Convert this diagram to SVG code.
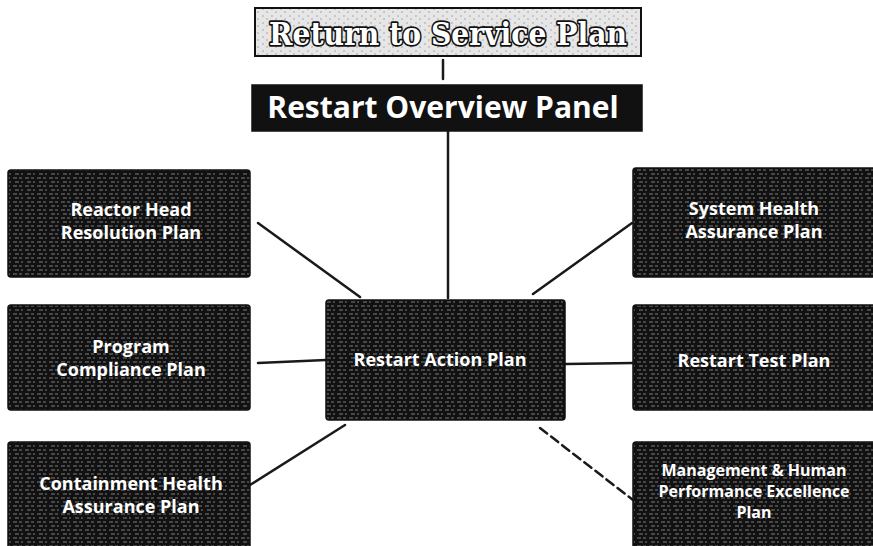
<svg xmlns="http://www.w3.org/2000/svg" width="873" height="546" viewBox="0 0 873 546">
<style>
.box{fill:url(#tex);stroke:#111;stroke-width:1.5}
.lbl{font-family:"Open Sans","DejaVu Sans",sans-serif;font-weight:700;font-size:18px;fill:#fff;text-anchor:middle}
.sm{font-size:16px}
.big{font-size:30px}
.con{stroke:#1a1a1a;stroke-width:2.5;fill:none;stroke-linecap:round}
</style>
<defs>
<pattern id="tex" width="12" height="8" patternUnits="userSpaceOnUse">
<rect width="12" height="8" fill="#111"/>
<path d="M1 2h4M7 2h3M3 6h4M9 6h2" stroke="#fff" stroke-width="1" opacity="0.45"/>
</pattern>
<pattern id="lite" width="9" height="7" patternUnits="userSpaceOnUse">
<rect width="9" height="7" fill="#e6e6e6"/>
<path d="M1 2h2M5 5h2" stroke="#666" stroke-width="1" opacity="0.5"/>
</pattern>
</defs>
<rect width="873" height="546" fill="#fff"/>
<g id="connectors">
<line class="con" x1="443" y1="60" x2="443" y2="79" stroke-width="3"/>
<line class="con" x1="448" y1="131" x2="448" y2="298"/>
<line class="con" x1="258" y1="223" x2="360" y2="297"/>
<line class="con" x1="533" y1="294" x2="632" y2="223"/>
<line class="con" x1="258" y1="363" x2="326" y2="360"/>
<line class="con" x1="566" y1="364" x2="633" y2="363"/>
<line class="con" x1="250" y1="485" x2="345" y2="425"/>
<line class="con" x1="540" y1="428" x2="633" y2="500" stroke-dasharray="9 5"/>
</g>
<g id="return-to-service">
<rect x="255" y="8" width="386" height="48" fill="url(#lite)" stroke="#111" stroke-width="2"/>
<text x="448" y="45" font-family="'DejaVu Serif','Liberation Serif',serif" font-weight="700" font-size="32" fill="#fff" stroke="#111" stroke-width="3.5" stroke-linejoin="round" paint-order="stroke" text-anchor="middle" textLength="358" lengthAdjust="spacingAndGlyphs">Return to Service Plan</text>
</g>
<g id="restart-overview">
<rect x="252" y="85" width="390" height="46" fill="#111" stroke="#111" stroke-width="1.5"/>
<text class="lbl big" x="443" y="118">Restart Overview Panel</text>
</g>
<g id="reactor-head">
<rect class="box" x="8" y="170" width="242" height="107" rx="3"/>
<text class="lbl" x="131" y="216">Reactor Head</text>
<text class="lbl" x="131" y="239">Resolution Plan</text>
</g>
<g id="program-compliance">
<rect class="box" x="8" y="305" width="242" height="105" rx="3"/>
<text class="lbl" x="131" y="353">Program</text>
<text class="lbl" x="131" y="376">Compliance Plan</text>
</g>
<g id="containment">
<rect class="box" x="8" y="442" width="242" height="110" rx="3"/>
<text class="lbl" x="131" y="490">Containment Health</text>
<text class="lbl" x="131" y="513">Assurance Plan</text>
</g>
<g id="restart-action">
<rect class="box" x="326" y="300" width="239" height="120" rx="3"/>
<text class="lbl" x="440" y="366">Restart Action Plan</text>
</g>
<g id="system-health">
<rect class="box" x="633" y="168" width="245" height="109" rx="3"/>
<text class="lbl" x="754" y="215">System Health</text>
<text class="lbl" x="754" y="238">Assurance Plan</text>
</g>
<g id="restart-test">
<rect class="box" x="633" y="305" width="245" height="105" rx="3"/>
<text class="lbl" x="754" y="367">Restart Test Plan</text>
</g>
<g id="management">
<rect class="box" x="633" y="442" width="245" height="110" rx="3"/>
<text class="lbl sm" x="754" y="476">Management &amp; Human</text>
<text class="lbl sm" x="754" y="497">Performance Excellence</text>
<text class="lbl sm" x="754" y="518">Plan</text>
</g>
</svg>
